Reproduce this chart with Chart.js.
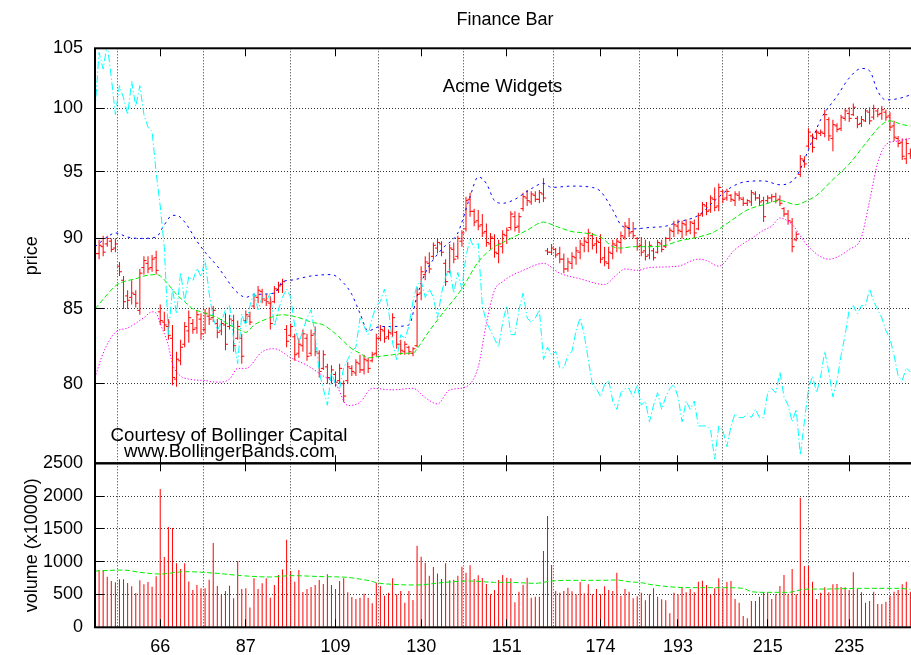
<!DOCTYPE html>
<html>
<head>
<meta charset="utf-8">
<title>Finance Bar</title>
<script src="https://cdn.jsdelivr.net/npm/chart.js@4/dist/chart.umd.min.js"></script>
<style>
  html, body { margin: 0; padding: 0; background: #fff; overflow: hidden; }
  #wrap { position: relative; width: 911px; height: 655px; overflow: hidden; background: #fff; }
  #price { position: absolute; left: 0; top: 0; }
  #vol { position: absolute; left: 0; top: 440px; }
</style>
</head>
<body>
<div id="wrap">
  <canvas id="price" width="930" height="500"></canvas>
  <canvas id="vol" width="930" height="215"></canvas>
</div>
<script>
// Trading days (row numbers of the data file)
const days = [
  50,51,52,53,54,55,56,57,58,59, 60,61,62,63,64,65,66,67,68,69,
  70,71,72,73,74,75,76,77,78,79, 80,81,82,83,84,85,86,87,88,89,
  90,91,92,93,94,95,96,97,98,99, 100,101,102,103,104,105,106,107,108,109,
  110,111,112,113,114,115,116,117,118,119, 120,121,122,123,124,125,126,127,128,129,
  130,131,132,133,134,135,136,137,138,139, 140,141,142,143,144,145,146,147,148,149,
  150,151,152,153,154,155,156,157,158,159, 160,161,162,163,164,165,166,167,168,169,
  170,171,172,173,174,175,176,177,178,179, 180,181,182,183,184,185,186,187,188,189,
  190,191,192,193,194,195,196,197,198,199, 200,201,202,203,204,205,206,207,208,209,
  210,211,212,213,214,215,216,217,218,219, 220,221,222,223,224,225,226,227,228,229,
  230,231,232,233,234,235,236,237,238,239, 240,241,242,243,244,245,246,247,248,249,
  250
];

const highs = [
  89.3,89.9,90.2,90.2,90.0,90.0,88.3,87.3,86.3,87.0, 86.3,87.8,88.7,88.7,88.8,89.1,85.3,84.8,84.3,83.9,
  82.1,82.9,84.1,84.9,84.3,84.9,84.7,85.0,85.1,85.2, 84.3,84.3,84.7,84.6,84.6,84.2,83.3,84.9,84.8,86.1,
  86.6,86.4,86.0,85.9,86.6,86.9,87.1,83.9,84.0,83.3, 83.0,83.6,83.3,83.6,83.8,82.2,82.2,81.3,81.2,80.8,
  81.3,80.2,81.4,81.2,81.6,81.9,81.9,81.7,82.1,83.3, 83.9,83.8,83.6,84.7,83.5,82.9,82.8,82.5,82.4,86.5,
  88.0,88.7,89.0,89.7,90.0,89.8,88.5,89.6,89.7,90.2, 90.6,93.1,93.4,92.2,92.1,91.8,91.1,90.4,90.3,89.9,
  90.6,90.8,92.0,92.0,91.9,93.4,93.6,93.5,93.5,93.6, 94.5,89.3,89.6,89.3,89.4,88.9,88.6,89.0,89.4,89.9,
  90.1,90.7,90.4,90.1,90.3,89.4,89.4,89.9,90.0,90.5, 91.2,91.5,91.2,90.1,90.1,89.9,89.8,89.3,89.9,89.9,
  90.1,90.8,91.3,91.4,91.3,91.4,91.3,91.4,91.9,92.7, 92.7,93.2,93.8,94.1,93.6,93.7,93.3,93.5,93.5,93.1,
  92.9,93.6,93.5,93.3,93.1,93.2,93.3,93.4,93.2,92.3, 92.1,91.5,90.5,96.3,96.2,98.4,98.0,98.3,98.3,99.9,
  99.3,99.1,98.8,99.5,100.0,100.1,100.4,99.4,99.4,100.0, 100.1,100.3,100.0,100.2,99.9,99.7,99.0,97.8,97.6,97.6,
  96.8
];

const lows = [
  87.2,88.5,88.7,89.4,89.0,89.0,87.3,85.0,85.0,85.3, 85.1,84.6,87.4,87.5,87.6,87.4,83.9,83.5,82.9,79.9,
  79.8,81.2,82.4,82.7,83.3,83.3,82.9,83.3,83.9,84.1, 83.0,83.2,82.2,83.6,82.1,82.9,81.3,84.0,83.9,85.0,
  85.4,85.4,85.2,83.6,85.4,86.1,86.1,82.4,83.1,81.5, 81.7,82.1,81.5,81.8,81.8,80.4,80.9,80.0,80.0,79.8,
  80.0,78.8,80.0,80.5,80.5,80.7,80.6,80.7,81.4,81.8, 82.8,82.7,82.9,83.1,82.3,81.9,81.9,81.9,81.8,82.4,
  85.6,87.0,87.5,88.5,88.9,88.7,86.6,87.5,88.2,88.5, 89.4,90.5,91.6,90.9,90.6,90.1,89.4,89.2,88.6,88.2,
  88.9,89.6,90.6,90.5,90.4,92.0,92.4,92.5,92.7,92.6, 92.7,88.8,88.8,88.6,88.2,87.5,87.6,87.8,88.1,88.5,
  89.0,89.0,89.2,88.9,88.2,88.0,87.8,88.5,89.0,88.9, 89.9,90.1,90.0,89.1,88.7,88.4,88.5,88.4,88.9,89.0,
  89.3,89.8,90.1,90.3,90.0,90.2,90.3,90.0,90.6,91.6, 91.7,91.9,92.0,92.0,92.6,92.8,92.7,92.4,92.8,92.4,
  92.4,92.4,92.8,92.4,91.2,92.6,92.7,92.6,92.4,91.6, 91.0,89.0,89.8,94.6,95.3,96.8,96.5,97.5,97.8,97.7,
  97.4,96.6,98.1,98.2,99.0,98.9,99.4,98.4,98.5,98.9, 98.7,99.1,99.3,99.1,99.0,98.2,97.4,96.9,95.9,95.6,
  96.0
];

const opens = [
  87.6,88.9,89.4,89.6,89.8,89.3,88.0,87.0,85.9,85.8, 86.0,84.9,87.9,88.2,87.9,88.6,84.8,84.1,83.8,83.0,
  80.3,81.5,82.6,83.5,84.0,83.7,84.3,83.6,84.5,84.4, 84.0,83.5,83.9,83.8,84.2,83.0,83.0,84.2,84.5,85.2,
  85.8,86.2,85.6,85.4,85.5,86.3,86.7,83.6,83.2,83.1, 82.0,82.5,83.0,82.0,83.3,82.0,81.0,81.1,80.3,80.6,
  80.2,80.0,80.2,81.0,80.7,81.3,80.9,81.5,81.5,82.0, 83.0,83.5,83.1,83.3,83.4,82.6,82.1,82.4,82.0,82.5,
  86.1,87.4,88.2,88.7,89.3,89.6,88.2,87.6,89.2,88.7, 89.8,90.7,92.9,92.0,91.3,91.0,90.5,89.6,90.0,88.9,
  89.4,90.2,90.8,91.6,90.9,92.2,93.0,92.7,93.2,92.9, 93.3,89.1,89.0,89.2,88.9,88.5,87.8,88.2,88.6,89.0,
  89.5,89.7,90.2,89.6,89.7,88.6,88.2,88.9,89.5,89.7, 90.1,90.8,90.5,90.0,89.5,89.1,88.8,89.1,89.0,89.6,
  89.4,90.0,90.5,90.9,90.5,91.0,90.6,91.1,90.7,91.8, 92.4,92.1,92.9,92.4,93.5,93.0,93.2,92.8,93.2,92.9,
  92.6,92.7,93.3,93.0,92.8,92.8,93.0,93.1,92.9,92.2, 91.8,91.2,89.9,94.8,95.9,97.0,97.8,97.6,98.0,98.0,
  99.1,97.6,98.6,98.4,99.2,99.6,99.5,99.2,98.8,99.0, 99.7,99.3,99.8,99.6,99.7,99.4,98.6,97.6,97.3,96.0,
  96.4
];

const closes = [
  88.9,89.5,89.0,90.0,89.2,89.6,87.6,85.5,85.6,86.1, 85.4,87.5,88.4,87.8,88.5,87.7,84.2,83.9,83.2,80.4,
  81.6,82.4,83.8,84.4,83.6,84.6,83.3,84.7,84.3,84.9, 83.4,84.0,82.6,84.3,82.5,83.8,81.8,84.6,84.1,85.9,
  86.3,85.7,85.5,84.0,86.4,86.6,86.9,82.8,83.8,81.9, 82.6,83.3,81.8,83.2,82.1,80.8,81.9,80.4,80.9,80.1,
  81.0,79.2,81.1,80.8,81.4,80.9,81.6,81.0,81.9,83.0, 83.6,83.0,83.4,84.4,82.6,82.2,82.6,82.1,82.3,86.0,
  87.6,88.3,87.8,89.5,89.7,89.0,86.9,89.3,88.5,90.0, 90.4,92.8,92.0,91.2,90.9,90.4,89.7,90.1,89.0,89.6,
  90.3,90.6,91.8,90.8,91.6,93.1,92.8,93.3,92.9,93.4, 93.0,89.0,89.3,88.8,88.5,87.8,88.3,88.7,89.1,89.6,
  89.8,90.4,89.5,89.8,88.5,88.3,89.0,89.6,89.8,90.2, 90.9,90.4,90.2,89.4,89.0,88.7,89.5,88.6,89.7,89.2,
  90.0,90.6,91.0,90.6,91.1,90.5,91.2,90.4,91.7,92.5, 92.0,93.0,92.3,93.8,92.9,93.5,92.9,93.3,93.0,92.6,
  92.8,93.4,93.0,92.7,91.6,93.0,93.1,92.8,92.6,91.8, 91.3,89.4,90.3,96.0,95.6,98.1,96.9,98.1,98.1,99.5,
  97.8,98.7,98.3,99.3,99.8,99.2,100.1,98.7,99.1,99.8, 99.0,100.0,99.5,99.9,99.3,98.5,97.7,97.2,96.2,97.2,
  96.6
];

// Bollinger bands and their moving average, sampled along the curves
const upperDays = [50,53,55,58,61,65,67,69,70,72,75,77,80,82,84,86,87,89,94,96,98,103,108,111,113,115,117,120,123,127,129,131,135,139,140,142,144,146,148,150,153,156,160,162,167,172,174,177,179,182,186,190,193,198,202,206,209,214,218,220,222,225,228,232,235,238,240,242,244,247,250];
const upperBand = [89.4,90.1,90.4,90.1,90.0,90.1,91.0,91.7,91.7,91.2,89.8,89.0,88.0,87.2,86.4,85.9,85.8,86.0,86.1,86.9,87.0,87.3,87.4,86.8,86.0,84.7,83.5,83.8,83.8,83.9,85.9,87.5,89.2,90.4,91.2,93.1,94.6,94.1,92.8,92.6,92.9,93.5,94.1,93.8,93.9,93.8,93.5,92.1,91.0,90.7,90.8,90.9,91.2,91.7,92.8,93.8,94.2,94.3,94.0,94.1,94.6,96.7,99.1,101.0,102.5,103.3,103.1,101.4,100.7,100.8,101.1];

const avgDays = [50,53,55,57,60,62,65,66,68,70,72,74,76,78,80,83,86,87,89,92,94,96,100,103,106,109,113,115,117,120,123,126,128,129,132,135,140,144,148,150,152,156,160,163,167,170,174,177,179,182,186,190,193,198,202,206,210,214,218,222,224,227,231,235,239,243,245,248,250];
const movingAvg = [85.0,86.0,86.6,86.9,87.1,87.3,87.4,87.3,86.7,86.0,85.5,85.0,84.8,84.6,84.4,83.9,83.5,83.4,83.9,84.3,84.5,84.6,84.4,84.1,83.9,83.3,82.3,82.0,81.7,81.8,81.9,82.0,82.0,82.3,83.5,84.6,86.4,88.3,89.4,89.7,90.0,90.6,91.2,90.9,90.5,90.4,90.1,89.4,89.3,89.4,89.4,89.5,89.8,90.1,90.5,91.3,92.1,92.5,92.8,92.5,92.7,93.2,94.4,95.6,97.2,98.7,99.0,98.7,98.6];

const lowerDays = [50,52,55,58,62,64,65,66,68,69,71,73,77,80,83,85,87,91,94,98,102,106,109,112,115,118,123,128,131,134,137,141,144,146,148,150,152,155,160,164,169,175,178,180,183,186,193,198,200,203,207,211,214,216,218,221,225,230,235,238,240,242,244,247,250];
const lowerBand = [80.4,82.0,83.4,83.7,84.4,84.8,84.7,84.0,82.5,81.3,80.5,80.3,80.2,80.1,80.3,81.0,81.0,82.1,82.3,81.7,81.2,80.5,80.0,78.6,78.8,79.7,79.6,79.7,79.1,78.7,79.6,79.8,81.1,84.0,86.3,86.9,87.3,87.7,88.2,87.5,87.1,86.7,87.4,87.8,87.7,87.9,88.0,88.5,88.4,88.0,89.2,90.0,90.6,90.9,91.5,91.0,89.4,88.5,89.2,90.1,92.8,95.7,97.1,97.4,97.6];

// Oscillator on the hidden right axis (0 = bottom of the panel, 100 = top)
const oscillator = [
  85,99,95,101,93,84,91,88,84,92, 86,91,84,81,80,70,62,52,31,42,
  36,46,39,45,44,47,45,49,41,35, 32,34,37,38,30,24,36,33,38,41,
  37,40,39,41,33,37,40,42,40,33, 29,32,35,37,31,22,18,14,22,19,
  18,23,25,27,28,35,33,31,35,38, 39,42,37,29,25,31,30,33,39,43,
  44,40,42,40,35,41,45,47,41,46, 42,50,54,52,53,38,34,32,30,28,
  34,38,31,31,37,41,35,34,35,37, 25,28,26,27,23,23,26,27,32,35,
  31,25,19,18,16,19,20,15,13,17, 18,18,16,19,14,15,10,14,17,13,
  16,18,19,16,10,15,13,15,9,9, 9,8,1,9,8,4,9,12,11,11,
  12,11,13,11,11,17,18,17,22,16, 14,10,13,2,10,18,21,17,21,27,
  22,16,20,26,31,37,38,36,38,38, 42,39,37,35,32,30,26,21,20,23,
  22
];

// Volume in units of 10000 shares
const volumes = [
  850,873,873,772,706,685,731,731,675,624, 523,716,655,690,619,777,2107,1071,1528,1513,
  975,888,975,700,569,645,594,594,726,1284, 629,503,553,635,442,1010,584,594,300,746,
  584,670,746,452,645,797,883,1335,858,695, 873,538,584,614,645,721,660,807,645,584,
  706,746,533,462,432,452,513,452,365,680, 629,482,528,746,503,553,376,553,416,1244,
  1076,985,787,919,822,736,975,716,726,787, 924,832,944,736,792,751,660,503,569,721,
  797,756,746,381,543,645,756,452,467,467, 1162,1695,949,553,528,553,604,548,503,690,
  518,655,503,584,503,624,569,553,832,482, 584,543,442,472,528,411,503,594,467,426,
  411,213,528,503,614,533,584,533,695,711, 645,503,594,746,594,690,706,432,376,173,
  137,401,401,467,533,533,432,503,629,797, 503,888,503,1975,934,934,695,432,528,609,
  533,655,660,614,609,569,838,584,533,376, 401,543,355,355,391,477,543,569,655,695,
  543
];

const volAvgDays = [50,57,61,66,72,80,86,93,98,106,112,115,118,119,123,129,135,142,148,152,158,162,168,174,178,181,184,186,193,198,204,209,211,214,220,224,230,238,247,250];
const volumeAvg = [858,873,838,812,848,822,787,767,787,772,761,735,700,680,655,645,680,706,685,685,670,706,716,716,721,695,680,655,609,604,604,594,543,533,533,579,584,594,594,579];

const dayTicks = [66, 87, 109, 130, 151, 174, 193, 215, 235];
const priceTicks = [80, 85, 90, 95, 100, 105];
const volumeTicks = [0, 500, 1000, 1500, 2000, 2500];

const FONT = '"Liberation Sans", Arial, Helvetica, sans-serif';
Chart.defaults.font.family = FONT;
Chart.defaults.font.size = 18;
Chart.defaults.color = '#000';
Chart.defaults.animation = false;

const pairs = (xs, ys) => xs.map((x, k) => ({ x, y: ys[k] }));
const GRID = '#333';

// Border box and inward tick marks in gnuplot style
const frame = {
  id: 'frame',
  afterDraw(chart) {
    const { ctx, chartArea: a, scales } = chart;
    const al = p => Math.round(p - 0.5) + 0.5;
    ctx.save();
    ctx.strokeStyle = '#000';
    ctx.lineWidth = 1;
    ctx.beginPath();
    for (const t of scales.x.ticks) {
      const px = al(scales.x.getPixelForValue(t.value));
      ctx.moveTo(px, a.top); ctx.lineTo(px, a.top + 8);
      ctx.moveTo(px, a.bottom); ctx.lineTo(px, a.bottom - 8);
    }
    for (const t of scales.y.ticks) {
      const py = al(scales.y.getPixelForValue(t.value));
      ctx.moveTo(a.left, py); ctx.lineTo(a.left + 9, py);
      ctx.moveTo(a.right, py); ctx.lineTo(a.right - 9, py);
    }
    ctx.stroke();
    ctx.lineWidth = 2;
    ctx.strokeRect(a.left, a.top, a.right - a.left, a.bottom - a.top);
    ctx.restore();
  }
};

// Open (left) and close (right) ticks of each finance bar
const barTicks = {
  id: 'barTicks',
  afterDatasetDraw(chart, args) {
    if (chart.data.datasets[args.index].label !== 'bars') return;
    const { ctx, chartArea: a, scales: { x, y } } = chart;
    ctx.save();
    ctx.beginPath();
    ctx.rect(a.left, a.top, a.right - a.left, a.bottom - a.top);
    ctx.clip();
    ctx.strokeStyle = '#ff0000';
    ctx.lineWidth = 1;
    ctx.beginPath();
    days.forEach((d, k) => {
      const px = x.getPixelForValue(d);
      const po = y.getPixelForValue(opens[k]);
      const pc = y.getPixelForValue(closes[k]);
      ctx.moveTo(px - 2.5, po); ctx.lineTo(px, po);
      ctx.moveTo(px, pc); ctx.lineTo(px + 2.5, pc);
    });
    ctx.stroke();
    ctx.restore();
  }
};

// Title and labels of the price panel
const priceText = {
  id: 'priceText',
  afterDraw(chart) {
    const { ctx, chartArea: a } = chart;
    ctx.save();
    ctx.fillStyle = '#000';
    ctx.textBaseline = 'alphabetic';
    ctx.textAlign = 'center';
    ctx.font = '18px ' + FONT;
    ctx.fillText('Finance Bar', 505, 25);
    ctx.font = '18.5px ' + FONT;
    ctx.fillText('Acme Widgets', a.left + 407.5, a.top + 43.5);
    ctx.textAlign = 'left';
    ctx.font = '18.7px ' + FONT;
    ctx.fillText('Courtesy of Bollinger Capital', a.left + 15.5, a.bottom - 22.5);
    ctx.fillText('www.BollingerBands.com', a.left + 29, a.bottom - 6.5);
    ctx.restore();
  }
};

const xCommon = (showLabels) => ({
  type: 'linear',
  min: 50,
  max: 253,
  offset: false,
  afterBuildTicks: s => { s.ticks = dayTicks.map(v => ({ value: v })); },
  afterFit: s => { s.height = showLabels ? 27.7 : 0; },
  grid: { color: GRID, drawTicks: false, lineWidth: 1 },
  border: { display: false, dash: [1, 2] },
  ticks: { display: showLabels, autoSkip: false, maxRotation: 0, padding: 9, callback: v => String(v) }
});

new Chart(document.getElementById('price'), {
  type: 'bar',
  data: {
    datasets: [
      { type: 'line', label: 'oscillator', yAxisID: 'y2', data: pairs(days, oscillator),
        borderColor: '#00ffff', borderWidth: 1, borderDash: [7.6, 2.5, 1.3, 2.5], pointRadius: 0, fill: false, tension: 0 },
      { type: 'line', label: 'lower', yAxisID: 'y', data: pairs(lowerDays, lowerBand),
        borderColor: '#ff00ff', borderWidth: 1, borderDash: [1.3, 1.9], pointRadius: 0, fill: false, cubicInterpolationMode: 'monotone' },
      { type: 'line', label: 'average', yAxisID: 'y', data: pairs(avgDays, movingAvg),
        borderColor: '#00ee00', borderWidth: 1, borderDash: [5, 2.5], pointRadius: 0, fill: false, cubicInterpolationMode: 'monotone' },
      { type: 'line', label: 'upper', yAxisID: 'y', data: pairs(upperDays, upperBand),
        borderColor: '#0000ff', borderWidth: 1, borderDash: [2.5, 3.8], pointRadius: 0, fill: false, cubicInterpolationMode: 'monotone' },
      { type: 'bar', label: 'bars', yAxisID: 'y', data: days.map((d, k) => ({ x: d, y: [lows[k], highs[k]] })),
        backgroundColor: '#ff0000', borderWidth: 0, barThickness: 1, inflateAmount: 0 }
    ]
  },
  options: {
    responsive: false,
    events: [],
    layout: { padding: { top: 48.3, left: 0, right: 7.4, bottom: 36.7 } },
    plugins: { legend: { display: false }, tooltip: { enabled: false }, title: { display: false } },
    scales: {
      x: xCommon(false),
      y: {
        type: 'logarithmic',
        position: 'left',
        min: 75,
        max: 105,
        afterBuildTicks: s => { s.ticks = priceTicks.map(v => ({ value: v })); },
        afterFit: s => { s.width = 95; },
        grid: { color: GRID, drawTicks: false, lineWidth: 1 },
        border: { display: false, dash: [1, 2] },
        ticks: { padding: 12, autoSkip: false, callback: v => String(v) },
        title: { display: true, text: 'price', padding: { top: 21, bottom: 0 } }
      },
      y2: { type: 'linear', position: 'right', min: 0, max: 100, display: false }
    }
  },
  plugins: [barTicks, frame, priceText]
});

new Chart(document.getElementById('vol'), {
  type: 'bar',
  data: {
    datasets: [
      { type: 'line', label: 'volume average', data: pairs(volAvgDays, volumeAvg),
        borderColor: '#00ee00', borderWidth: 1, borderDash: [5, 2.5], pointRadius: 0, fill: false, cubicInterpolationMode: 'monotone' },
      { type: 'bar', label: 'volume', data: days.map((d, k) => ({ x: d, y: volumes[k] })),
        backgroundColor: '#ff0000', borderWidth: 0, barThickness: 1, inflateAmount: 0 }
    ]
  },
  options: {
    responsive: false,
    events: [],
    layout: { padding: { top: 23.3, left: 0, right: 7.4, bottom: 0 } },
    plugins: { legend: { display: false }, tooltip: { enabled: false } },
    scales: {
      x: xCommon(true),
      y: {
        type: 'linear',
        position: 'left',
        min: 0,
        max: 2500,
        afterBuildTicks: s => { s.ticks = volumeTicks.map(v => ({ value: v })); },
        afterFit: s => { s.width = 95; },
        grid: { color: GRID, drawTicks: false, lineWidth: 1 },
        border: { display: false, dash: [1, 2] },
        ticks: { padding: 12, autoSkip: false, callback: v => String(v) },
        title: { display: true, text: 'volume (x10000)', padding: { top: 21, bottom: 0 } }
      }
    }
  },
  plugins: [frame]
});
</script>
</body>
</html>
